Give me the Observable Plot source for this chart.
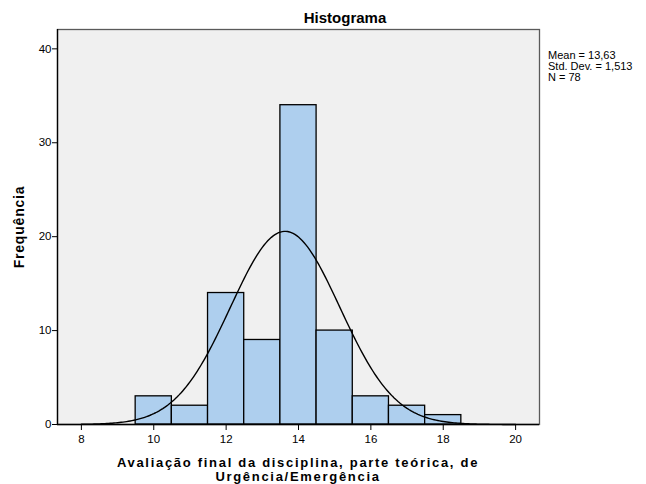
<!DOCTYPE html>
<html><head><meta charset="utf-8">
<script src="https://cdn.jsdelivr.net/npm/d3@7"></script>
<script src="https://cdn.jsdelivr.net/npm/@observablehq/plot@0.6"></script>
<style>body{margin:0;background:#fff} svg{display:block}</style>
</head><body><div id="chart"></div>
<script>
// Data
const binStarts = [9.5, 10.5, 11.5, 12.5, 13.5, 14.5, 15.5, 16.5, 17.5];
const binEnds   = [10.5, 11.5, 12.5, 13.5, 14.5, 15.5, 16.5, 17.5, 18.5];
const counts    = [3, 2, 14, 9, 34, 10, 3, 2, 1];
const stats     = {mean: 13.63, sd: 1.513, n: 78};
const xTicks    = [8, 10, 12, 14, 16, 18, 20];
const yTicks    = [0, 10, 20, 30, 40];
const legendLines = ["Mean = 13,63", "Std. Dev. = 1,513", "N = 78"];
const title = "Histograma";
const yLabel = "Frequência";
const xLabelLines = ["Avaliação final da disciplina, parte teórica, de", "Urgência/Emergência"];

const bins = binStarts.map((s, i) => ({x1: s, x2: binEnds[i], count: counts[i]}));
// Fitted normal curve from the stated mean / std. dev. (bin width 1)
const curve = d3.range(8, 20.001, 0.05).map(x => ({
  x, y: stats.n * Math.exp(-0.5 * ((x - stats.mean) / stats.sd) ** 2) / (stats.sd * Math.sqrt(2 * Math.PI))
}));

const font = "'Liberation Sans', Arial, sans-serif";
const plot = Plot.plot({
  width: 646, height: 484,
  marginLeft: 57, marginRight: 107, marginTop: 29, marginBottom: 60,
  style: {fontFamily: font, fontSize: "11px", background: "white", color: "black"},
  x: {domain: [7.34, 20.66]},
  y: {domain: [0, 42.06]},
  marks: [
    Plot.frame({fill: "#f0f0f0", stroke: "#5a5a5a", strokeWidth: 1.3}),
    Plot.rectY(bins, {x1: "x1", x2: "x2", y: "count", fill: "#aecfee", stroke: "black", strokeWidth: 1.3, inset: 0}),
    Plot.line(curve, {x: "x", y: "y", stroke: "black", strokeWidth: 1.4}),
    Plot.ruleY([0], {stroke: "black", strokeWidth: 1.3}),
    Plot.ruleX([7.34], {stroke: "black", strokeWidth: 1.3}),
    Plot.axisX({ticks: xTicks, tickSize: 6, tickPadding: 4, label: null, fontSize: 11.5}),
    Plot.axisY({ticks: yTicks, tickSize: 5, tickPadding: 1, label: null, fontSize: 11.5})
  ]
});
document.getElementById("chart").appendChild(plot);

const svg = d3.select(plot);
svg.append("text").attr("x", 345).attr("y", 23).attr("text-anchor", "middle")
  .attr("font-family", font).attr("font-weight", "bold").attr("font-size", 15).text(title);
svg.append("text").attr("transform", "translate(24,227) rotate(-90)").attr("text-anchor", "middle")
  .attr("font-family", font).attr("font-weight", "bold").attr("font-size", 14)
  .attr("letter-spacing", 0.8).text(yLabel);
xLabelLines.forEach((t, i) => {
  svg.append("text").attr("x", 298).attr("y", 467 + i * 14).attr("text-anchor", "middle")
    .attr("font-family", font).attr("font-weight", "bold").attr("font-size", 13)
    .attr("letter-spacing", 1.7).text(t);
});
legendLines.forEach((t, i) => {
  svg.append("text").attr("x", 548).attr("y", 59 + i * 11).attr("text-anchor", "start")
    .attr("font-family", font).attr("font-size", 11).text(t);
});
</script></body></html>
